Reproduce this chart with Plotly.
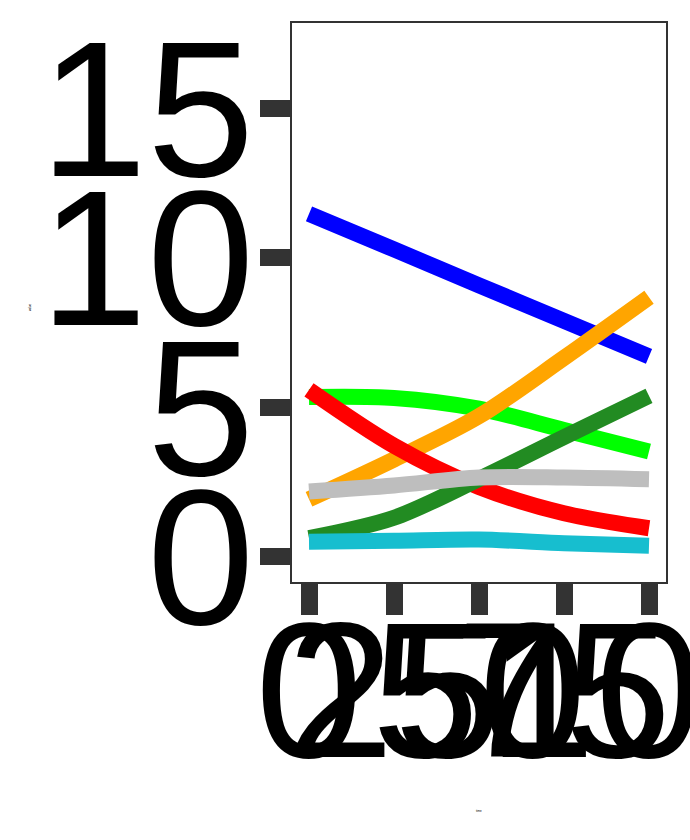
import plotly.graph_objects as go

x_vals = [0, 25, 50, 75, 100]

blue_vals = [11.47, 10.28, 9.08, 7.89, 6.70]
lime_vals = [5.34, 5.31, 4.95, 4.24, 3.52]
orange_vals = [1.92, 3.25, 4.70, 6.65, 8.68]
red_vals = [5.58, 3.71, 2.33, 1.45, 0.95]
darkgreen_vals = [0.62, 1.30, 2.60, 4.00, 5.38]
gray_vals = [2.18, 2.38, 2.65, 2.65, 2.59]
cyan_vals = [0.50, 0.53, 0.57, 0.45, 0.36]

series_names = ["blue", "lime", "orange", "red", "forestgreen", "grey", "cyan"]
series_values = [blue_vals, lime_vals, orange_vals, red_vals, darkgreen_vals, gray_vals, cyan_vals]
series_colors = ["#0000ff", "#00ff00", "#ffa500", "#ff0000", "#228b22", "#bebebe", "#17becf"]

x_ticks = [0, 25, 50, 75, 100]
y_ticks = [0, 5, 10, 15]

x_title = "time"
y_title = "value"

fig = go.Figure()
for name, vals, col in zip(series_names, series_values, series_colors):
    fig.add_trace(go.Scatter(
        x=x_vals, y=vals, mode="lines", name=name,
        line=dict(color=col, width=16, shape="spline", smoothing=0.9),
        showlegend=False,
    ))

tick_font = dict(family="Liberation Sans, Arial, sans-serif", size=193, color="#000000")

fig.update_layout(
    width=690, height=840,
    margin=dict(l=292, r=24, t=23, b=258, autoexpand=False),
    paper_bgcolor="white", plot_bgcolor="white",
    showlegend=False,
    xaxis=dict(
        range=[-5, 105], tickmode="array", tickvals=x_ticks,
        ticktext=[str(v) for v in x_ticks], tickangle=0,
        ticks="outside", ticklen=31, tickwidth=16.7, tickcolor="#333333",
        tickfont=tick_font, showgrid=False, zeroline=False,
        showline=True, mirror=True, linecolor="#333333", linewidth=2,
        automargin=False, ticklabelstandoff=-90, ticklabeloverflow="allow",
    ),
    yaxis=dict(
        range=[-0.85, 17.86], tickmode="array", tickvals=y_ticks,
        ticktext=[str(v) for v in y_ticks],
        ticks="outside", ticklen=30, tickwidth=16.7, tickcolor="#333333",
        tickfont=tick_font, showgrid=False, zeroline=False,
        showline=True, mirror=True, linecolor="#333333", linewidth=2,
        automargin=False, ticklabelstandoff=-33, ticklabeloverflow="allow",
    ),
    annotations=[
        dict(text=x_title, xref="paper", yref="paper", x=0.5, y=-0.417,
             showarrow=False, font=dict(size=3, color="#000000",
             family="Liberation Sans, Arial, sans-serif")),
        dict(text=y_title, xref="paper", yref="paper", x=-0.711, y=0.492,
             showarrow=False, textangle=-90, font=dict(size=3, color="#000000",
             family="Liberation Sans, Arial, sans-serif")),
    ],
)

fig.write_html("out.html")
